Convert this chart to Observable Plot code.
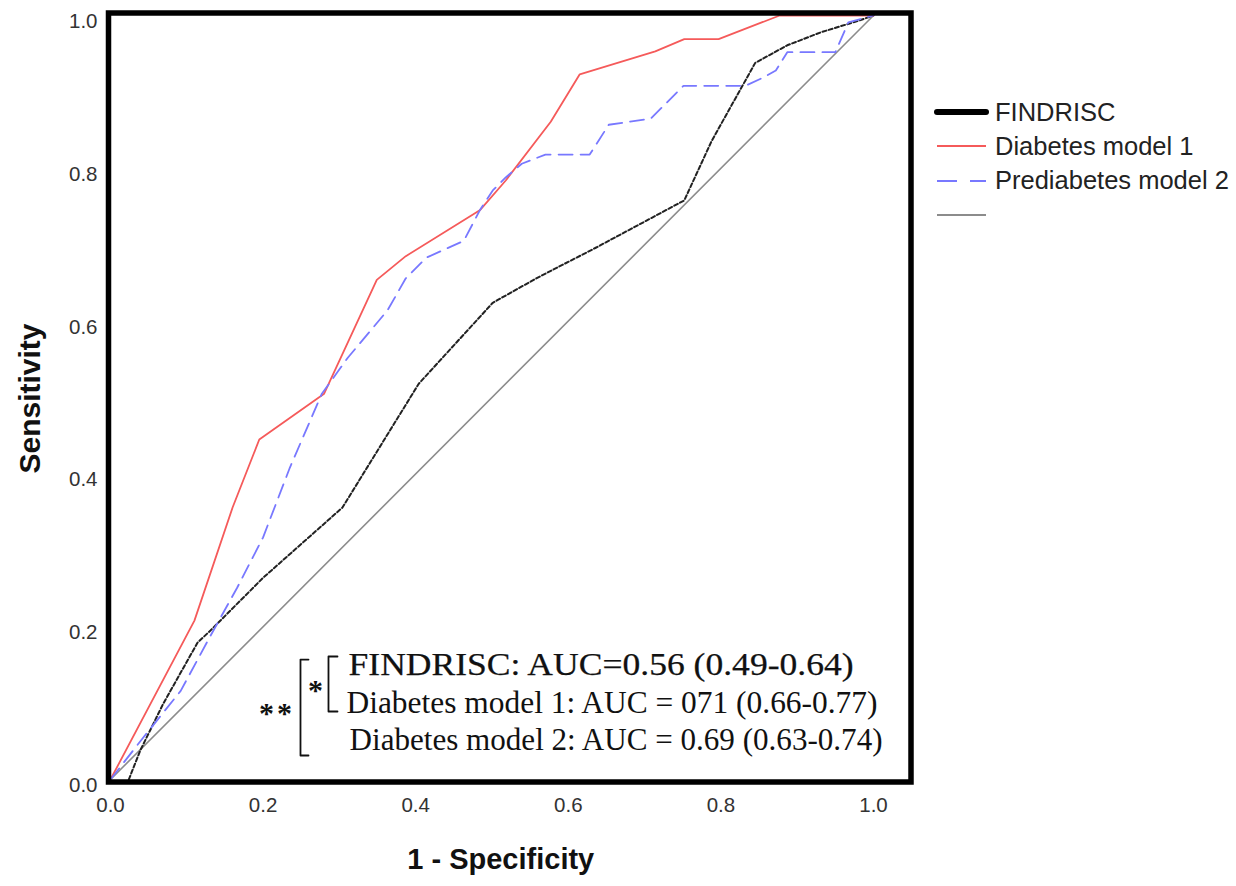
<!DOCTYPE html>
<html><head><meta charset="utf-8">
<script src="https://cdn.jsdelivr.net/npm/d3@7"></script>
<script src="https://cdn.jsdelivr.net/npm/@observablehq/plot@0.6"></script>
<style>
body{margin:0;background:#fff;}
#wrap{position:relative;width:1236px;height:886px;overflow:hidden;}
.leg{position:absolute;left:933px;height:30px;display:flex;align-items:center;font-family:"Liberation Sans",Arial,sans-serif;font-size:25.5px;color:#222;white-space:nowrap;}
.leg svg{margin-right:6px;}
</style></head><body><div id="wrap"></div>
<script>
// ---- data ----
const xTicks = [0, 0.2, 0.4, 0.6, 0.8, 1.0];
const yTicks = [0, 0.2, 0.4, 0.6, 0.8, 1.0];

const findriscX = [0.024, 0.039, 0.069, 0.114, 0.131, 0.200, 0.304, 0.404, 0.501, 0.560, 0.636, 0.752, 0.788, 0.845, 0.887, 0.931, 0.980, 1.000];
const findriscY = [0.000, 0.038, 0.099, 0.179, 0.195, 0.264, 0.356, 0.518, 0.624, 0.657, 0.696, 0.758, 0.836, 0.938, 0.961, 0.978, 0.993, 1.000];

const model1X = [0, 0.110, 0.160, 0.195, 0.280, 0.349, 0.387, 0.484, 0.518, 0.577, 0.615, 0.714, 0.752, 0.797, 0.877, 1.000];
const model1Y = [0, 0.208, 0.356, 0.445, 0.505, 0.654, 0.685, 0.745, 0.784, 0.861, 0.923, 0.953, 0.969, 0.969, 1.000, 1.000];

const model2X = [0, 0.043, 0.092, 0.131, 0.166, 0.200, 0.235, 0.277, 0.311, 0.363, 0.387, 0.414, 0.463, 0.484, 0.501, 0.518, 0.539, 0.570, 0.628, 0.653, 0.708, 0.751, 0.832, 0.856, 0.872, 0.887, 0.950, 0.967, 1.000];
const model2Y = [0, 0.055, 0.116, 0.188, 0.251, 0.317, 0.408, 0.505, 0.552, 0.614, 0.656, 0.683, 0.705, 0.745, 0.771, 0.788, 0.806, 0.818, 0.818, 0.857, 0.865, 0.908, 0.908, 0.919, 0.928, 0.952, 0.952, 0.991, 1.000];

const refX = [0, 1];
const refY = [0, 1];

const legendLabels = ["FINDRISC", "Diabetes model 1", "Prediabetes model 2", ""];
const annLabels = ["FINDRISC: AUC=0.56 (0.49-0.64)", "Diabetes model 1: AUC = 071 (0.66-0.77)", "Diabetes model 2: AUC = 0.69 (0.63-0.74)"];

// ---- build tables ----
const toRows = (xs, ys) => xs.map((x, i) => ({x, y: ys[i]}));
const findrisc = toRows(findriscX, findriscY);
const model1 = toRows(model1X, model1Y);
const model2 = toRows(model2X, model2Y);
const ref = toRows(refX, refY);

const styles = [
  {stroke: "#222", strokeWidth: 2, dash: "4,2.5", legW: 6, legDash: null},
  {stroke: "#f55a5a", strokeWidth: 1.8, dash: null, legW: 2, legDash: null},
  {stroke: "#7878ff", strokeWidth: 1.8, dash: "14,8", legW: 2, legDash: "20,13"},
  {stroke: "#8c8c8c", strokeWidth: 1.6, dash: null, legW: 2, legDash: null}
];

const x0 = -2 / 763, y0 = -2.5 / 764;
const serif = "Liberation Serif, Times New Roman, serif";

const chart = Plot.plot({
  width: 1236, height: 886,
  marginLeft: 108, marginRight: 325.5, marginTop: 12.5, marginBottom: 104.5,
  x: {domain: [x0, x0 + 802.5 / 763]},
  y: {domain: [y0, y0 + 769 / 764]},
  style: {fontFamily: "Liberation Sans, Arial, sans-serif", background: "#fff", overflow: "visible"},
  marks: [
    Plot.axisX({ticks: xTicks, tickFormat: d => d.toFixed(1), tickSize: 0, tickPadding: 15, fontSize: 20.5, color: "#333", label: null}),
    Plot.axisY({ticks: yTicks, tickFormat: d => d.toFixed(1), tickSize: 0, tickPadding: 11, fontSize: 20.5, color: "#333", label: null, dy: 6}),
    Plot.line(ref, {x: "x", y: "y", stroke: styles[3].stroke, strokeWidth: styles[3].strokeWidth}),
    Plot.line(findrisc, {x: "x", y: "y", stroke: styles[0].stroke, strokeWidth: styles[0].strokeWidth, strokeDasharray: styles[0].dash}),
    Plot.line(model1, {x: "x", y: "y", stroke: styles[1].stroke, strokeWidth: styles[1].strokeWidth}),
    Plot.line(model2, {x: "x", y: "y", stroke: styles[2].stroke, strokeWidth: styles[2].strokeWidth, strokeDasharray: styles[2].dash}),
    // annotation brackets
    Plot.line([[0.2975, 0.161], [0.2857, 0.161], [0.2857, 0.089], [0.2975, 0.089]], {stroke: "#111", strokeWidth: 1.8}),
    Plot.line([[0.2595, 0.157], [0.249, 0.157], [0.249, 0.0314], [0.2595, 0.0314]], {stroke: "#111", strokeWidth: 1.8}),
    Plot.text(["*"], {x: 0.2687, y: 0.1243, text: d => d, fontFamily: serif, fontSize: 30, fontWeight: "bold", fill: "#111", dy: 6}),
    Plot.text(["*"], {x: 0.2045, y: 0.0942, text: d => d, fontFamily: serif, fontSize: 30, fontWeight: "bold", fill: "#111", dy: 6}),
    Plot.text(["*"], {x: 0.2281, y: 0.0942, text: d => d, fontFamily: serif, fontSize: 30, fontWeight: "bold", fill: "#111", dy: 6}),
    Plot.text([annLabels[0]], {x: 0.312, y: (779 - 665) / 764, text: d => d, textAnchor: "start", lineAnchor: "middle", fontFamily: serif, fontSize: 31, fill: "#111", stroke: "#111", strokeWidth: 0.25}),
    Plot.text([annLabels[1]], {x: 0.3093, y: (779 - 703) / 764, text: d => d, textAnchor: "start", lineAnchor: "middle", fontFamily: serif, fontSize: 31, fill: "#111"}),
    Plot.text([annLabels[2]], {x: 0.3133, y: (779 - 740) / 764, text: d => d, textAnchor: "start", lineAnchor: "middle", fontFamily: serif, fontSize: 31, fill: "#111"}),
    // axis titles
    Plot.text(["1 - Specificity"], {frameAnchor: "bottom", text: d => d, textAnchor: "middle", dx: -9, dy: 78, lineAnchor: "middle", fontSize: 29, fontWeight: "bold", fill: "#111"}),
    Plot.text(["Sensitivity"], {frameAnchor: "left", text: d => d, textAnchor: "middle", dx: -78, dy: 1, rotate: -90, lineAnchor: "middle", fontSize: 30, fontWeight: "bold", fill: "#111"}),
    Plot.frame({stroke: "#000", strokeWidth: 5.5})
  ]
});

// fit annotation text widths to the reference
const annWidths = {[annLabels[0]]: 505, [annLabels[1]]: 531, [annLabels[2]]: 533};
d3.select(chart).selectAll("text").each(function () {
  const t = this.textContent;
  if (annWidths[t]) {
    this.setAttribute("textLength", annWidths[t]);
    this.setAttribute("lengthAdjust", "spacingAndGlyphs");
  }
});

const wrap = document.getElementById("wrap");
wrap.appendChild(chart);

// legend
legendLabels.forEach((lab, i) => {
  const s = styles[i];
  const row = document.createElement("div");
  row.className = "leg";
  row.style.top = (112 + i * 34.3 - 15) + "px";
  const sw = d3.create("svg").attr("width", 56).attr("height", 30);
  sw.append("line").attr("x1", 4).attr("x2", 53).attr("y1", 15).attr("y2", 15)
    .attr("stroke", i === 0 ? "#000" : s.stroke).attr("stroke-width", s.legW)
    .attr("stroke-linecap", i === 0 ? "round" : "butt")
    .attr("stroke-dasharray", s.legDash);
  row.appendChild(sw.node());
  const span = document.createElement("span");
  span.textContent = lab;
  row.appendChild(span);
  wrap.appendChild(row);
});
</script></body></html>
